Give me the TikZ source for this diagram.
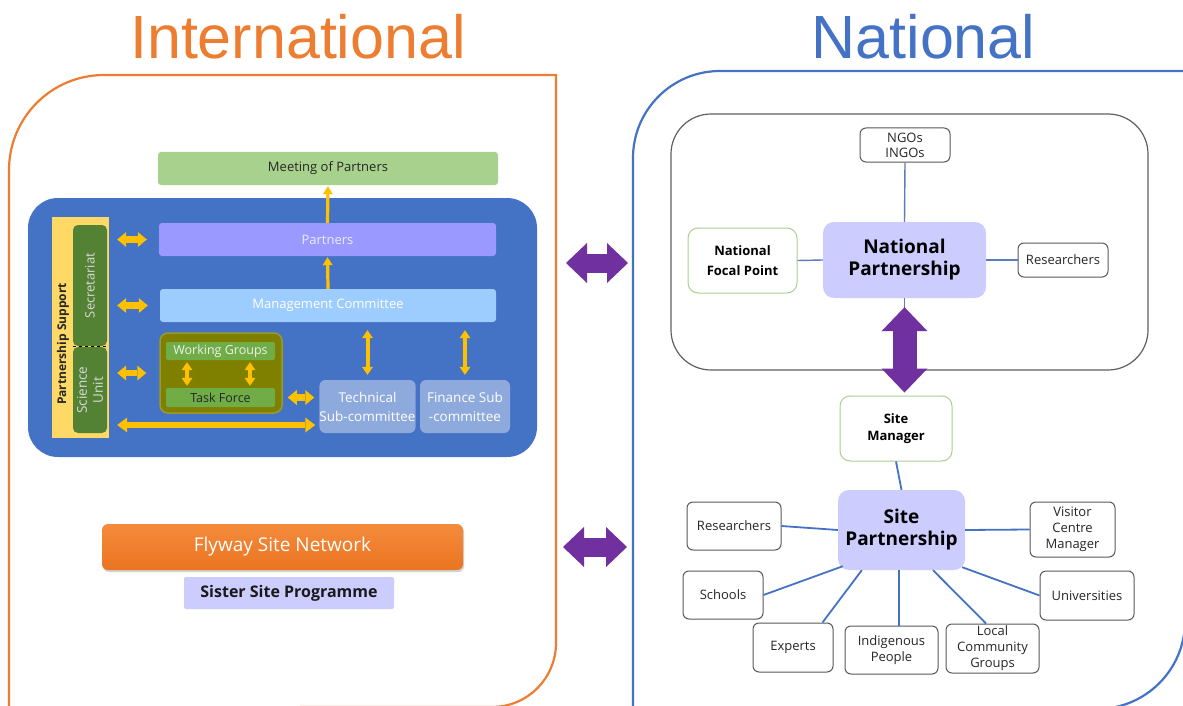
\documentclass[tikz,border=0pt]{standalone}
\usepackage{fontspec}
\setmainfont{Open Sans}
\newfontfamily\titlefont{Liberation Sans}
\usetikzlibrary{arrows.meta,shadows,calc}
\definecolor{orangeL}{HTML}{ED7D31}
\definecolor{blueL}{HTML}{4472C4}
\definecolor{blueP}{HTML}{4472C4}
\definecolor{mopG}{HTML}{A9D18E}
\definecolor{partP}{HTML}{9999FF}
\definecolor{mcB}{HTML}{9DCDFF}
\definecolor{stripY}{HTML}{FFD966}
\definecolor{darkG}{HTML}{548235}
\definecolor{oliveC}{HTML}{7F7F00}
\definecolor{oliveB}{HTML}{9A9A2A}
\definecolor{wgG}{HTML}{70AD47}
\definecolor{subB}{HTML}{8EA9DB}
\definecolor{arrowY}{HTML}{FFC000}
\definecolor{lavC}{HTML}{CCCCFF}
\definecolor{purpleA}{HTML}{7030A0}
\definecolor{orTop}{HTML}{F58B3D}
\definecolor{orBot}{HTML}{EA7420}
\definecolor{nconnC}{HTML}{5B7DB8}
\definecolor{boxG}{HTML}{595959}
\newcommand{\fsz}[2]{\fontsize{#1}{#2}\selectfont}
\tikzset{
  yarr/.style={draw=arrowY, line width=6.5pt, {Triangle[width=15pt,length=9pt,line width=0pt]}-{Triangle[width=15pt,length=9pt,line width=0pt]}},
  yarrl/.style={draw=arrowY, line width=6.5pt, {Triangle[width=15pt,length=10pt,line width=0pt]}-{Triangle[width=15pt,length=10pt,line width=0pt]}},
  yarrv/.style={draw=arrowY, line width=4pt, {Triangle[width=11pt,length=8pt,line width=0pt]}-{Triangle[width=11pt,length=8pt,line width=0pt]}},
  yarrup/.style={draw=arrowY, line width=3.2pt, -{Triangle[width=10pt,length=8pt,line width=0pt]}},
  parr/.style={draw=purpleA, line width=19pt, {Triangle[width=40pt,length=21pt,line width=0pt]}-{Triangle[width=40pt,length=21pt,line width=0pt]}},
  parrv/.style={draw=purpleA, line width=24pt, {Triangle[width=46pt,length=24pt,line width=0pt]}-{Triangle[width=46pt,length=24pt,line width=0pt]}},
  bar/.style={inner sep=0pt, rounded corners=3pt, font=\fsz{13}{16}},
  wbox/.style={draw=boxG, line width=1pt, fill=white, rounded corners=6pt, inner sep=0pt, align=center, font=\fsz{13}{16}, text=black!85},
  gbox/.style={draw=mopG, line width=1pt, fill=white, rounded corners=8pt, inner sep=0pt, align=center, font=\bfseries\fsz{13}{17}},
  lavbox/.style={fill=lavC, rounded corners=11pt, inner sep=0pt, align=center, font=\bfseries\fsz{19}{22}},
  nconn/.style={draw=nconnC, line width=1.4pt},
  sconn/.style={draw=blueL, line width=1.8pt},
}
\begin{document}
\begin{tikzpicture}[x=1pt,y=-1pt]
\useasboundingbox (0,0) rectangle (1183,706);
\clip (0,0) rectangle (1183,706);
\fill[white] (0,0) rectangle (1183,706);

% titles
\node[font=\titlefont\fsz{61}{70}, text=orangeL, anchor=base, inner sep=0pt] (tintl) at (298,59) {International};
\node[font=\titlefont\fsz{61}{70}, text=blueL, anchor=base, inner sep=0pt] (tnat) at (923.5,59) {National};

% outer panels
\draw[orangeL, line width=2.2pt, rounded corners=95pt] (9,740) -- (9,75) -- (200,75) [sharp corners] -- (556,75) -- (556,500) [rounded corners=64pt] -- (556,707) -- (300,707);
\draw[blueL, line width=2.2pt, rounded corners=87pt] (633,740) -- (633,71) -- (900,71) [sharp corners] -- (1190,71);
\draw[blueL, line width=2.2pt, rounded corners=88pt] (1185,300) -- (1185,709) -- (900,709);

% ===== International =====
\node[bar, fill=mopG, minimum width=340pt, minimum height=33pt, text=black!85] (mop) at (328,168.5) {Meeting of Partners};
\node[fill=blueP, rounded corners=30pt, minimum width=509pt, minimum height=259pt] (ipanel) at (282.5,327.5) {};
\node[bar, fill=partP, minimum width=337pt, minimum height=33pt, text=white!92!blue] (partners) at (327.5,239.5) {Partners};
\node[bar, fill=mcB, minimum width=336pt, minimum height=33pt, text=white] (mc) at (328,305.5) {Management Committee};
\node[fill=stripY, minimum width=57pt, minimum height=221pt, inner sep=0pt] (strip) at (80.5,327.5) {};
\node[rotate=90, inner sep=0pt, font=\bfseries\fsz{12}{14}, text=black!85] (pslbl) at (63,344) {Partnership Support};
\node[rotate=90, fill=darkG, rounded corners=5pt, minimum width=121pt, minimum height=34pt, inner sep=0pt, font=\fsz{13}{16}, text=white!85!black] (sec) at (90,285.5) {Secretariat};
\node[rotate=90, fill=darkG, rounded corners=5pt, minimum width=86pt, minimum height=34pt, inner sep=0pt, align=center, font=\fsz{13.5}{16}, text=white!85!black] (sci) at (90,390) {Science\\Unit};
\draw[black, dashed, line width=0.8pt] (sec.north west) -- (sec.south west);

\node[fill=oliveC, draw=oliveB, line width=1.5pt, rounded corners=8pt, minimum width=122pt, minimum height=80pt, inner sep=0pt] (wgbox) at (221,373) {};
\node[bar, fill=wgG, rounded corners=2pt, minimum width=109pt, minimum height=18pt, font=\fsz{12.5}{15}, text=white!94!black] (wg) at (220.5,351) {Working Groups};
\node[bar, fill=wgG, rounded corners=2pt, minimum width=109pt, minimum height=19pt, font=\fsz{12.5}{15}, text=black!85] (tf) at (220.5,397.5) {Task Force};
\node[bar, fill=subB, rounded corners=6pt, minimum width=91pt, minimum height=53pt, align=center, font=\fsz{13.5}{19}, text=white] (tech) at (367.5,406.5) {Technical\\Sub-committee};
\node[bar, fill=subB, rounded corners=6pt, minimum width=90pt, minimum height=53pt, align=center, font=\fsz{13.5}{19}, text=white] (fin) at (465,406.5) {Finance Sub\\-committee};

% yellow arrows
\draw[yarrup, shorten >=1pt] (mc.north) -- (partners.south);
\draw[yarrup, shorten >=1pt] (partners.north) -- (mop.south);
\draw[yarr, shorten <=8pt, shorten >=12pt] (strip.east |- partners.west) -- (partners.west);
\draw[yarr, shorten <=8pt, shorten >=12pt] (strip.east |- mc.west) -- (mc.west);
\draw[yarr, shorten <=8pt, shorten >=13pt] (strip.east |- wgbox.west) -- (wgbox.west);
\coordinate (techlow) at ([yshift=-18.5pt]tech.west);
\draw[yarrl, shorten <=8pt, shorten >=4pt] (strip.east |- techlow) -- (techlow);
\draw[yarr, shorten <=5pt, shorten >=5pt] (wgbox.east |- tf.east) -- (tech.west |- tf.east);
\draw[yarrv, shorten <=2pt, shorten >=2pt] ([xshift=-33.5pt]wg.south) -- ([xshift=-33.5pt]tf.north);
\draw[yarrv, shorten <=2pt, shorten >=2pt] ([xshift=29.5pt]wg.south) -- ([xshift=29.5pt]tf.north);
\draw[yarrv, shorten <=8pt, shorten >=5pt] (tech.north |- mc.south) -- (tech.north);
\draw[yarrv, shorten <=8pt, shorten >=5pt] (fin.north |- mc.south) -- (fin.north);

% Flyway
\node[top color=orTop, bottom color=orBot, rounded corners=6pt, minimum width=361pt, minimum height=46pt, inner sep=0pt, font=\fsz{19}{22}, text=white, drop shadow={opacity=0.35, shadow xshift=1pt, shadow yshift=-2pt}] (fsn) at (282.5,547) {Flyway Site Network};
\node[fill=lavC, rounded corners=2pt, minimum width=210pt, minimum height=32pt, inner sep=0pt, font=\bfseries\fsz{16}{19}, text=black!90] (ssp) at (289,593) {Sister Site Programme};

% purple arrows between panels
\coordinate (pa1l) at (566,263);
\coordinate (pa1r) at (628,263);
\coordinate (pa2l) at (563,547);
\coordinate (pa2r) at (627,547);
\draw[parr] (pa1l) -- (pa1r);
\draw[parr] (pa2l) -- (pa2r);

% ===== National =====
\node[draw=gray!75!black, line width=1.2pt, rounded corners=40pt, minimum width=477pt, minimum height=256pt, inner sep=0pt] (natbox) at (909.5,242) {};
\node[wbox, minimum width=90pt, minimum height=34pt, font=\fsz{13}{15}] (ngo) at (905,145) {NGOs\\INGOs};
\node[lavbox, minimum width=163pt, minimum height=76pt] (np) at (904.5,260) {National\\Partnership};
\node[gbox, minimum width=109pt, minimum height=65pt, rounded corners=10pt] (nfp) at (742.5,260.5) {National\\[3pt]Focal Point};
\node[wbox, minimum width=90pt, minimum height=34pt] (nres) at (1063,260) {Researchers};
\draw[nconn] (ngo.south) -- (np.north);
\draw[nconn] (nfp.east) -- (np.west);
\draw[nconn] (np.east) -- (nres.west);
\draw[nconn] (np.south) -- ([yshift=-12pt]np.south);

\node[gbox, minimum width=112pt, minimum height=65pt, rounded corners=10pt] (sm) at (896,428.5) {Site\\Manager};
\draw[parrv, shorten <=9pt, shorten >=3pt] (np.south) -- (np.south |- sm.north);

\node[lavbox, minimum width=127pt, minimum height=80pt] (sp) at (901.5,530) {Site\\Partnership};
\node[wbox, minimum width=94pt, minimum height=48pt] (sres) at (734,526) {Researchers};
\node[wbox, minimum width=85pt, minimum height=55pt] (vcm) at (1072.5,529.5) {Visitor\\Centre\\Manager};
\node[wbox, minimum width=80pt, minimum height=48pt] (sch) at (723,595) {Schools};
\node[wbox, minimum width=94pt, minimum height=49pt] (uni) at (1087,595.5) {Universities};
\node[wbox, minimum width=80pt, minimum height=49pt] (exp) at (793,647.5) {Experts};
\node[wbox, minimum width=93pt, minimum height=48pt] (ind) at (891.5,650) {Indigenous\\People};
\node[wbox, minimum width=93pt, minimum height=49pt] (loc) at (992.5,648.5) {Local\\Community\\Groups};

\draw[sconn] (sm.south) -- (sp.north);
\draw[sconn] (sres.east) -- (sp.west);
\draw[sconn] (sp.east) -- (vcm.west);
\draw[sconn] (sch.east) -- ([xshift=5pt,yshift=4pt]sp.south west);
\draw[sconn] ([xshift=-11pt]exp.north east) -- ([xshift=24pt]sp.south west);
\draw[sconn] ([xshift=7.5pt]ind.north) -- ([xshift=-2.5pt]sp.south);
\draw[sconn] ([xshift=-6.5pt]loc.north) -- ([xshift=31.5pt]sp.south);
\draw[sconn] (uni.west) -- ([xshift=-3pt,yshift=3pt]sp.south east);
\end{tikzpicture}
\end{document}
